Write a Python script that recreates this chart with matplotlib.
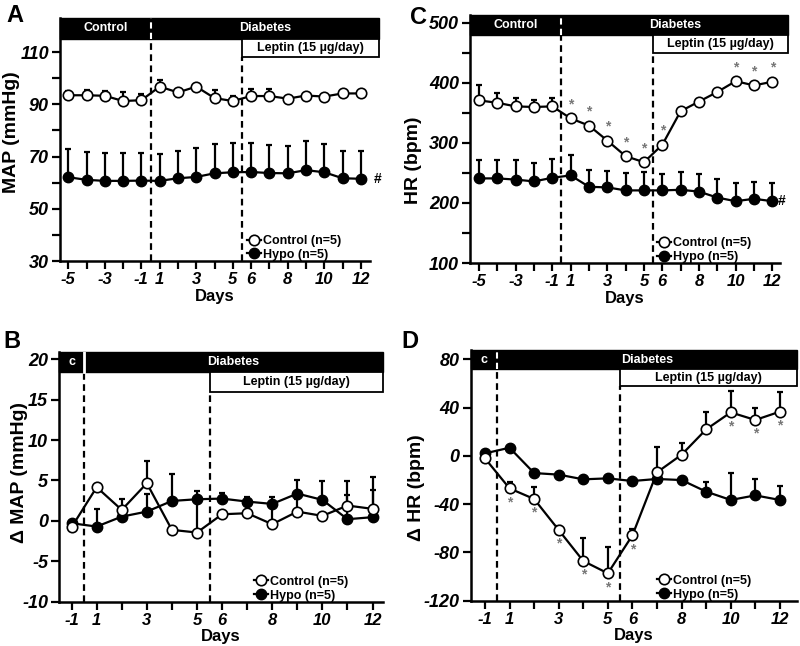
import numpy as np
import matplotlib
matplotlib.use('Agg')
import matplotlib.pyplot as plt
from matplotlib.patches import Rectangle

plt.rcParams['font.family'] = ['Liberation Sans', 'DejaVu Sans']
plt.rcParams['font.weight'] = 'bold'

# Days (no day 0)
days_long = ['-5', '-4', '-3', '-2', '-1'] + [str(d) for d in range(1, 13)]
days_short = ['-1'] + [str(d) for d in range(1, 13)]
labels_long = ['-5', '-3', '-1', '1', '3', '5', '6', '8', '10', '12']
labels_short = ['-1', '1', '3', '5', '6', '8', '10', '12']

# A - MAP (mmHg)
map_ctrl = [93.5, 93.5, 93.3, 91.3, 91.6, 96.8, 94.6, 96.8, 92.4, 91.3, 93.2, 93.2, 92.2, 93.4, 93.0, 94.2, 94.2]
map_ctrl_err = [1.6, 2.2, 2.0, 3.6, 2.4, 2.7, 0.5, 0.5, 3.3, 1.9, 2.6, 2.6, 0.5, 0.5, 0.5, 0.5, 0.5]
map_hypo = [62.1, 61.1, 60.7, 60.7, 60.8, 60.7, 61.7, 62.2, 63.6, 64.0, 64.1, 63.7, 63.6, 64.8, 64.0, 61.7, 61.5]
map_hypo_err = [10.8, 10.8, 10.8, 10.7, 10.7, 10.3, 10.6, 11.0, 11.3, 11.1, 11.3, 10.8, 10.6, 11.2, 10.8, 10.3, 10.5]

# C - HR (bpm)
hr_ctrl = [371, 367, 361, 360, 361, 341, 329, 304, 278, 268, 297, 353, 369, 385, 403, 396, 402]
hr_ctrl_err = [26, 17, 14, 12, 14, 3, 3, 3, 3, 3, 3, 3, 3, 3, 3, 3, 3]
hr_hypo = [241, 241, 239, 236, 242, 246, 227, 226, 221, 221, 221, 222, 219, 209, 203, 207, 203]
hr_hypo_err = [30, 30, 32, 30, 31, 34, 28, 28, 29, 30, 27, 29, 29, 31, 30, 28, 30]
hr_ctrl_star = ['1', '2', '3', '4', '5', '6', '10', '11', '12']

# B - delta MAP (mmHg)
dmap_ctrl = [-0.78, 4.17, 1.36, 4.66, -1.11, -1.44, 0.82, 0.95, -0.41, 1.15, 0.62, 1.90, 1.49]
dmap_ctrl_err = [0.3, 0.3, 1.3, 2.7, 0.3, 4.0, 0.3, 0.3, 2.5, 1.5, 0.3, 3.05, 4.0]
dmap_hypo = [-0.29, -0.70, 0.53, 1.15, 2.47, 2.68, 2.76, 2.39, 2.10, 3.38, 2.60, 0.21, 0.46]
dmap_hypo_err = [0.3, 2.15, 0.5, 2.2, 3.35, 1.07, 0.7, 0.6, 0.9, 1.7, 2.3, 3.0, 3.4]

# D - delta HR (bpm)
dhr_ctrl = [-2.0, -26.9, -35.7, -61.4, -87.1, -97.3, -65.8, -13.6, 1.0, 22.0, 36.1, 29.8, 36.7]
dhr_ctrl_err = [0.5, 5, 9.7, 3.6, 19, 21.5, 5, 21, 10, 14.4, 18, 10, 16]
dhr_hypo = [2.1, 6.8, -14.2, -15.5, -19.4, -18.6, -20.8, -19.1, -20.0, -29.6, -36.5, -32.7, -36.5]
dhr_hypo_err = [1, 1, 1, 1, 1, 1, 1, 1, 1, 7.7, 22.6, 13.6, 11.6]
dhr_ctrl_star = ['1', '2', '3', '4', '5', '6', '10', '11', '12']

W, H = 800, 646
fig = plt.figure(figsize=(8, 6.46), dpi=100)


def add_ax(left, top, right, bottom):
    return fig.add_axes([left / W, 1 - bottom / H, (right - left) / W, (bottom - top) / H])


def panel(ax, days, shown, ctrl, ctrl_err, hypo, hypo_err, xlim, ylim, bar_lo, box_lo,
          bar_end, first_text, ylabel, ylab_xy, leg_x, yticks, yminor=None, white_dash=True):
    x = np.arange(len(days))
    d1 = days.index('1') - 0.5
    d2 = days.index('6') - 0.5

    # hypo first so control markers sit on top
    ax.errorbar(x, hypo, yerr=[np.zeros(len(x)), hypo_err], fmt='none', ecolor='black',
                elinewidth=1.6, capsize=2.5, capthick=1.6, zorder=2)
    ax.plot(x, hypo, '-o', color='black', mfc='black', mec='black', ms=7.5, lw=1.6,
            zorder=3, label='Hypo (n=5)')
    ax.errorbar(x, ctrl, yerr=[np.zeros(len(x)), ctrl_err], fmt='none', ecolor='black',
                elinewidth=1.6, capsize=2.5, capthick=1.6, zorder=4)
    ax.plot(x, ctrl, '-o', color='black', mfc='white', mec='black', mew=1.2, ms=7.5, lw=1.6,
            zorder=5, label='Control (n=5)')

    ax.set_xlim(*xlim)
    ax.set_ylim(*ylim)

    # top bars
    ax.add_patch(Rectangle((xlim[0], bar_lo), bar_end - xlim[0], ylim[1] - bar_lo,
                           fc='black', ec='black', lw=1, clip_on=False, zorder=6))
    ax.add_patch(Rectangle((d2, box_lo), bar_end - d2, bar_lo - box_lo,
                           fc='white', ec='black', lw=1.3, clip_on=False, zorder=6))
    if white_dash:
        ax.plot([d1, d1], [bar_lo, ylim[1]], color='white', ls=(0, (3, 2)), lw=1.5, zorder=7)
    else:
        ax.plot([d1, d1], [bar_lo, ylim[1]], color='white', lw=2, zorder=7)
    ax.plot([d1, d1], [ylim[0], bar_lo], color='black', ls=(0, (3, 2)), lw=1.6, zorder=1)
    ax.plot([d2, d2], [ylim[0], box_lo], color='black', ls=(0, (3, 2)), lw=1.6, zorder=1)

    ymid = (ylim[1] + bar_lo) / 2
    ax.text((xlim[0] + d1) / 2, ymid, first_text, color='white', ha='center', va='center',
            fontsize=9, fontweight='bold', zorder=8)
    ax.text((d1 + bar_end) / 2, ymid, 'Diabetes', color='white', ha='center', va='center',
            fontsize=9, fontweight='bold', zorder=8)
    ax.text((d2 + bar_end) / 2, (bar_lo + box_lo) / 2, 'Leptin (15 µg/day)', color='black',
            ha='center', va='center', fontsize=9, fontweight='bold', zorder=8)

    ax.set_xticks(x)
    ax.set_xticklabels([d if d in shown else '' for d in days], fontsize=12,
                       fontweight='bold', style='italic')
    ax.set_yticks(yticks)
    ax.set_yticklabels([str(t) for t in yticks], fontsize=13, fontweight='bold', style='italic')
    if yminor is not None:
        ax.set_yticks(yminor, minor=True)
    ax.tick_params(axis='both', which='major', length=6, width=1.6, direction='out', pad=2)
    ax.tick_params(axis='y', which='minor', length=6, width=1.6)
    for s in ['top', 'right']:
        ax.spines[s].set_visible(False)
    for s in ['left', 'bottom']:
        ax.spines[s].set_linewidth(1.8)

    ax.set_xlabel('Days', fontsize=12, fontweight='bold', labelpad=1)
    ax.set_ylabel(ylabel, fontsize=14, fontweight='bold')
    ax.yaxis.set_label_coords(*ylab_xy)

    h, l = ax.get_legend_handles_labels()
    ax.legend(h[::-1], l[::-1], loc='lower left', bbox_to_anchor=(leg_x, -0.03), frameon=False,
              fontsize=9, handlelength=1.1, handletextpad=0.15, labelspacing=0.15,
              borderaxespad=0.2)
    return x


# A
axA = add_ax(60, 18, 370, 261)
panel(axA, days_long, labels_long, map_ctrl, map_ctrl_err, map_hypo, map_hypo_err,
      (-0.45, 16.5), (30, 123.1), 115.1, 108.0, 17.0, 'Control', 'MAP (mmHg)',
      (-0.13, 0.53), 0.58, [30, 50, 70, 90, 110], [40, 60, 80, 100])
axA.annotate('#', (16, map_hypo[-1]), xytext=(12, 0), textcoords='offset points',
             ha='center', va='center', fontsize=10, fontweight='bold', annotation_clip=False)

# C
axC = add_ax(470, 15, 780, 263)
panel(axC, days_long, labels_long, hr_ctrl, hr_ctrl_err, hr_hypo, hr_hypo_err,
      (-0.49, 16.42), (100, 513.3), 480, 449.5, 16.87, 'Control', 'HR (bpm)',
      (-0.155, 0.415), 0.58, [100, 200, 300, 400, 500], [150, 250, 350, 450])
axC.annotate('#', (16, hr_hypo[-1]), xytext=(7, 0), textcoords='offset points',
             ha='center', va='center', fontsize=10, fontweight='bold', annotation_clip=False)
for d in hr_ctrl_star:
    i = days_long.index(d)
    axC.annotate('*', (i, hr_ctrl[i]), xytext=(0, 5), textcoords='offset points',
                 ha='center', va='bottom', fontsize=10, color='#777777', zorder=9)

# B
axB = add_ax(59.3, 351.7, 382.6, 601.7)
panel(axB, days_short, labels_short, dmap_ctrl, dmap_ctrl_err, dmap_hypo, dmap_hypo_err,
      (-0.49, 12.4), (-10, 20.94), 18.39, 15.92, 12.4, 'c', '\u0394 MAP (mmHg)',
      (-0.097, 0.515), 0.58, [-10, -5, 0, 5, 10, 15, 20], white_dash=False)

# D
axD = add_ax(470.7, 350, 796.6, 600.7)
panel(axD, days_short, labels_short, dhr_ctrl, dhr_ctrl_err, dhr_hypo, dhr_hypo_err,
      (-0.58, 12.68), (-120, 87.8), 71.8, 58.0, 12.68, 'c', '\u0394 HR (bpm)',
      (-0.14, 0.45), 0.55, [-120, -80, -40, 0, 40, 80])
for d in dhr_ctrl_star:
    i = days_short.index(d)
    axD.annotate('*', (i, dhr_ctrl[i]), xytext=(0, -5), textcoords='offset points',
                 ha='center', va='top', fontsize=10, color='#777777', zorder=9)

# panel letters
for letter, px, py in [('A', 6, 4), ('C', 410, 6), ('B', 3, 330), ('D', 401, 330)]:
    fig.text(px / W, 1 - py / H, letter, fontsize=17, fontweight='bold', ha='left', va='top')

fig.savefig('out.png', dpi=100)
